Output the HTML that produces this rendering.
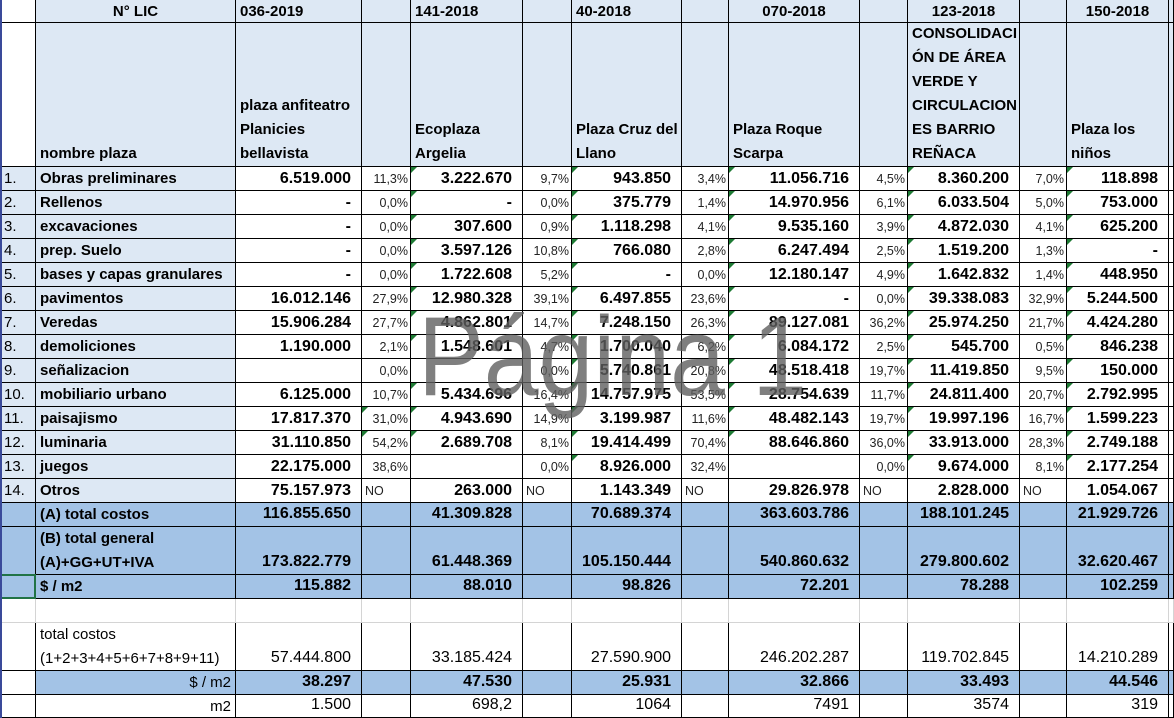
<!DOCTYPE html>
<html><head><meta charset="utf-8">
<style>
html,body{margin:0;padding:0;background:#fff;}
#sheet{position:relative;width:1174px;height:718px;overflow:hidden;font-family:"Liberation Sans",sans-serif;color:#000;}
.c{position:absolute;box-sizing:border-box;border-right:1px solid #000;border-bottom:1px solid #000;overflow:hidden;white-space:nowrap;font-size:15px;line-height:24px;}
.b{font-weight:bold;}
.v{text-align:right;padding-right:10px;font-weight:bold;font-size:16px;}
.p{text-align:right;padding-right:2px;font-size:12.5px;color:#222;}
.tri{position:absolute;left:0;top:0;width:0;height:0;border-top:6px solid #1e7b34;border-right:6px solid transparent;}
#wm{position:absolute;left:418px;top:292px;font-size:112px;color:rgba(95,95,95,0.8);transform:scaleX(0.88);transform-origin:left top;white-space:nowrap;pointer-events:none;}
</style></head>
<body>
<div id="sheet"></div>
<script>
const codes=["036-2019","141-2018","40-2018","070-2018","123-2018","150-2018"];
const plazaNames=["plaza anfiteatro<br>Planicies<br>bellavista","Ecoplaza<br>Argelia","Plaza Cruz del<br>Llano","Plaza Roque<br>Scarpa","CONSOLIDACI<br>ÓN DE ÁREA<br>VERDE Y<br>CIRCULACION<br>ES BARRIO<br>REÑACA","Plaza los<br>niños"];
const items=["Obras preliminares","Rellenos","excavaciones","prep. Suelo","bases y capas granulares","pavimentos","Veredas","demoliciones","señalizacion","mobiliario urbano","paisajismo","luminaria","juegos","Otros"];
const vals=[
["6.519.000","3.222.670","943.850","11.056.716","8.360.200","118.898"],
["-","-","375.779","14.970.956","6.033.504","753.000"],
["-","307.600","1.118.298","9.535.160","4.872.030","625.200"],
["-","3.597.126","766.080","6.247.494","1.519.200","-"],
["-","1.722.608","-","12.180.147","1.642.832","448.950"],
["16.012.146","12.980.328","6.497.855","-","39.338.083","5.244.500"],
["15.906.284","4.862.801","7.248.150","89.127.081","25.974.250","4.424.280"],
["1.190.000","1.548.601","1.700.040","6.084.172","545.700","846.238"],
["","","5.740.861","48.518.418","11.419.850","150.000"],
["6.125.000","5.434.696","14.757.975","28.754.639","24.811.400","2.792.995"],
["17.817.370","4.943.690","3.199.987","48.482.143","19.997.196","1.599.223"],
["31.110.850","2.689.708","19.414.499","88.646.860","33.913.000","2.749.188"],
["22.175.000","","8.926.000","","9.674.000","2.177.254"],
["75.157.973","263.000","1.143.349","29.826.978","2.828.000","1.054.067"]];
const pcts=[
["11,3%","9,7%","3,4%","4,5%","7,0%",""],
["0,0%","0,0%","1,4%","6,1%","5,0%",""],
["0,0%","0,9%","4,1%","3,9%","4,1%",""],
["0,0%","10,8%","2,8%","2,5%","1,3%",""],
["0,0%","5,2%","0,0%","4,9%","1,4%",""],
["27,9%","39,1%","23,6%","0,0%","32,9%",""],
["27,7%","14,7%","26,3%","36,2%","21,7%",""],
["2,1%","4,7%","6,2%","2,5%","0,5%",""],
["0,0%","0,0%","20,8%","19,7%","9,5%",""],
["10,7%","16,4%","53,5%","11,7%","20,7%",""],
["31,0%","14,9%","11,6%","19,7%","16,7%",""],
["54,2%","8,1%","70,4%","36,0%","28,3%",""],
["38,6%","0,0%","32,4%","0,0%","8,1%",""],
["NO","NO","NO","NO","NO",""]];
const totalA=["116.855.650","41.309.828","70.689.374","363.603.786","188.101.245","21.929.726"];
const totalB=["173.822.779","61.448.369","105.150.444","540.860.632","279.800.602","32.620.467"];
const perM2=["115.882","88.010","98.826","72.201","78.288","102.259"];
const totalCostos=["57.444.800","33.185.424","27.590.900","246.202.287","119.702.845","14.210.289"];
const perM2b=["38.297","47.530","25.931","32.866","33.493","44.546"];
const m2=["1.500","698,2","1064","7491","3574","319"];

const X=[0,36,236,362,411,523,572,682,729,860,908,1020,1067,1169,1174];
const sheet=document.getElementById('sheet');
const LB="#dde8f4", TB="#a3c3e6";
function cell(ci,span,y,h,html,cls,bg,name,extra){
  const d=document.createElement('div');
  d.className='c '+(cls||'');
  d.style.left=X[ci]+'px';d.style.top=y+'px';
  d.style.width=(X[ci+span]-X[ci])+'px';d.style.height=h+'px';
  if(bg)d.style.background=bg;
  if(extra)d.style.cssText+=extra;
  d.innerHTML=html;
  
  
  sheet.appendChild(d);return d;
}
function tri(d){const t=document.createElement('div');t.className='tri';
  
  
  d.appendChild(t);}
cell(0,1,0,23,'','',"#fff",'corner-cell');
cell(1,1,0,23,'N° LIC','b',LB,'header-nlic','text-align:center;line-height:23px;');
const hAlign=['left','left','left','center','center','center'];
codes.forEach((c,i)=>{
  cell(2+i*2,1,0,23,c,'b',LB,'header-code-'+c,'text-align:'+hAlign[i]+';padding:0 4px;line-height:23px;');
  cell(3+i*2,1,0,23,'','',LB,'header-pct-blank');
});
cell(0,1,23,144,'','',"#fff",'rownum-blank');
cell(1,1,23,144,'nombre plaza','b',LB,'nombre-plaza-label','display:flex;align-items:flex-end;padding:0 4px;');
plazaNames.forEach((n,i)=>{
  cell(2+i*2,1,23,144,'<div style="white-space:nowrap">'+n+'</div>','b',LB,'plaza-name','display:flex;align-items:flex-end;padding:0 4px;');
  cell(3+i*2,1,23,144,'','',LB,'plaza-pct-blank');
});
items.forEach((it,r)=>{
  const y=167+r*24;
  cell(0,1,y,24,(r+1)+'.','',LB,'row-number','padding-left:4px;');
  cell(1,1,y,24,it,'b',LB,'item-label','padding-left:4px;');
  for(let i=0;i<6;i++){
    const d=cell(2+i*2,1,y,24,vals[r][i],'v','#fff','item-value');
    if(i>0 && r<13 && vals[r][i]!=='')tri(d);
    const isNo=pcts[r][i]==='NO';
    const p=cell(3+i*2,1,y,24,pcts[r][i],'p','#fff','item-pct',isNo?'text-align:left;padding-left:3px;':'');
    if(i===0&&(r===10||r===11))tri(p);
  }
});
function totalRow(y,h,label,arr,name,bold,bgAll,numBg,labelStyle){
  cell(0,1,y,h,'','',numBg,name+'-rownum');
  cell(1,1,y,h,label,bold?'b':'',bgAll,name+'-label',labelStyle||'padding-left:4px;');
  for(let i=0;i<6;i++){
    cell(2+i*2,1,y,h,arr[i],'v',bgAll,name+'-value','display:flex;align-items:flex-end;justify-content:flex-end;'+(bold?'':'font-weight:normal;'));
    cell(3+i*2,1,y,h,'','',bgAll,name+'-pct-blank');
  }
}
totalRow(503,24,'(A) total costos',totalA,'total-a',true,TB,TB);
totalRow(527,48,'(B) total general<br>(A)+GG+UT+IVA',totalB,'total-b',true,TB,TB);
totalRow(575,24,'$ / m2',perM2,'price-per-m2',true,TB,TB);
const sel=document.createElement('div');
sel.style.cssText='position:absolute;left:0;top:574px;width:36px;height:25px;box-sizing:border-box;border:2px solid #217346;';


sheet.appendChild(sel);
for(let ci=0;ci<14;ci++){cell(ci,1,599,24,'','','#fff','blank-cell','border-color:#d4d4d4;');}
totalRow(623,48,'total costos<br>(1+2+3+4+5+6+7+8+9+11)',totalCostos,'total-costos',false,'#fff','#fff','padding-left:4px;font-size:15px;');
totalRow(671,24,'$ / m2',perM2b,'cost-per-m2',true,TB,'#fff','text-align:right;padding-right:4px;font-weight:normal;');
totalRow(695,23,'m2',m2,'area-m2',false,'#fff','#fff','text-align:right;padding-right:4px;');
const lf=document.createElement('div');
lf.style.cssText='position:absolute;left:0;top:0;width:2px;height:718px;background:#3a4a9a;';


sheet.appendChild(lf);
const wm=document.createElement('div');wm.id='wm';wm.textContent='Página 1';


sheet.appendChild(wm);
</script>
</body></html>
